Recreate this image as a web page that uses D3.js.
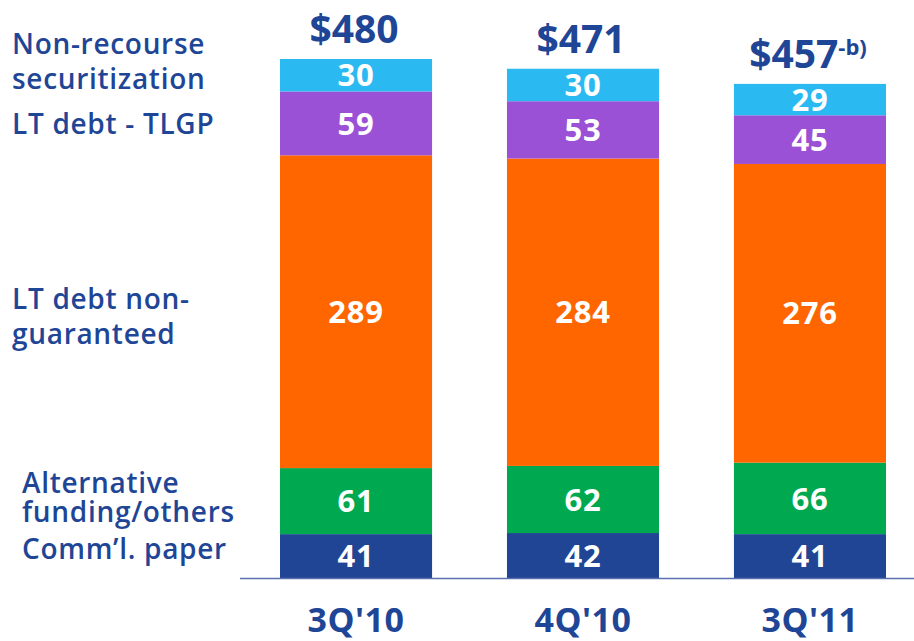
<!DOCTYPE html>
<html>
<head>
<meta charset="utf-8">
<script src="https://cdn.jsdelivr.net/npm/d3@7"></script>
<style>
  body { margin: 0; background: #fff; }
  svg text { font-family: "Open Sans", "DejaVu Sans", sans-serif; }
</style>
</head>
<body>
<div id="chart"></div>
<script>
// data
var categories = ["3Q'10", "4Q'10", "3Q'11"];
var seriesNames = ["Comm'l. paper", "Alternative funding/others", "LT debt non-guaranteed", "LT debt - TLGP", "Non-recourse securitization"];
var commPaper = [41, 42, 41];
var altFunding = [61, 62, 66];
var ltNonGuar = [289, 284, 276];
var ltTlgp = [59, 53, 45];
var nonRecourse = [30, 30, 29];
var totalLabels = ["$480", "$471", "$457"];
var totalNotes = ["", "", "-b)"];

var colors = ["#1f4594", "#00a94f", "#ff6600", "#9b51d6", "#2bb9f2"];
var textBlue = "#1f4696";

var width = 914, height = 641;
var svg = d3.select("#chart").append("svg")
  .attr("width", width)
  .attr("height", height);

var rows = categories.map(function(c, i) {
  return {cat: c, s0: commPaper[i], s1: altFunding[i], s2: ltNonGuar[i], s3: ltTlgp[i], s4: nonRecourse[i]};
});
var keys = ["s0", "s1", "s2", "s3", "s4"];
var stacked = d3.stack().keys(keys)(rows);

var x = d3.scaleBand()
  .domain(categories)
  .range([280, 886])
  .paddingInner(0.33)
  .paddingOuter(0);

var y = d3.scaleLinear()
  .domain([0, 480])
  .range([578.5, 59]);

// bars
var layer = svg.selectAll("g.layer")
  .data(stacked)
  .enter().append("g")
  .attr("class", "layer")
  .attr("fill", function(d, i) { return colors[i]; });

layer.selectAll("rect")
  .data(function(d) { return d; })
  .enter().append("rect")
  .attr("x", function(d) { return x(d.data.cat); })
  .attr("y", function(d) { return y(d[1]); })
  .attr("width", x.bandwidth())
  .attr("height", function(d) { return y(d[0]) - y(d[1]); });

// values inside segments
layer.selectAll("text")
  .data(function(d) { return d.map(function(p) { return {p: p, key: d.key}; }); })
  .enter().append("text")
  .attr("x", function(d) { return x(d.p.data.cat) + x.bandwidth() / 2; })
  .attr("y", function(d) { return (y(d.p[0]) + y(d.p[1])) / 2; })
  .attr("dy", "0.36em")
  .attr("text-anchor", "middle")
  .attr("fill", "#fff")
  .attr("font-size", "31px")
  .attr("font-weight", "bold")
  .attr("letter-spacing", "0.8px")
  .text(function(d) { return d.p.data[d.key]; });

// totals
var tot = svg.selectAll("text.total")
  .data(rows)
  .enter().append("text")
  .attr("class", "total")
  .attr("x", function(d) { return x(d.cat) + x.bandwidth() / 2 - 2; })
  .attr("y", function(d) { return y(d.s0 + d.s1 + d.s2 + d.s3 + d.s4) - 16; })
  .attr("text-anchor", "middle")
  .attr("fill", textBlue)
  .attr("font-size", "39px")
  .attr("font-weight", "bold");
tot.append("tspan")
  .text(function(d, i) { return totalLabels[i]; });
tot.append("tspan")
  .attr("dy", "-0.6em")
  .attr("font-size", "22px")
  .text(function(d, i) { return totalNotes[i]; });

// x axis
var xAxis = svg.append("g")
  .attr("transform", "translate(0," + y(0) + ")")
  .call(d3.axisBottom(x).tickSize(0).tickPadding(29));
xAxis.select(".domain")
  .attr("d", "M240,0H914")
  .attr("stroke", "#5a6fae")
  .attr("stroke-width", 1.5);
xAxis.selectAll(".tick text")
  .attr("fill", textBlue)
  .attr("font-size", "34px")
  .attr("font-weight", "bold")
  .attr("letter-spacing", "0.5px")
  .attr("font-family", "\"Open Sans\", sans-serif");

// series labels on the left
var legendLines = [
  {text: "Non-recourse", x: 12, y: 54},
  {text: "securitization", x: 12, y: 89},
  {text: "LT debt - TLGP", x: 12, y: 134},
  {text: "LT debt non-", x: 12, y: 309},
  {text: "guaranteed", x: 12, y: 344},
  {text: "Alternative", x: 22, y: 493},
  {text: "funding/others", x: 22, y: 522},
  {text: "Comm\u2019l. paper", x: 22, y: 559}
];
svg.selectAll("text.legend")
  .data(legendLines)
  .enter().append("text")
  .attr("class", "legend")
  .attr("x", function(d) { return d.x; })
  .attr("y", function(d) { return d.y; })
  .attr("fill", textBlue)
  .attr("font-size", "28px")
  .attr("font-weight", "600")
  .attr("letter-spacing", "0.7px")
  .text(function(d) { return d.text; });
</script>
</body>
</html>
